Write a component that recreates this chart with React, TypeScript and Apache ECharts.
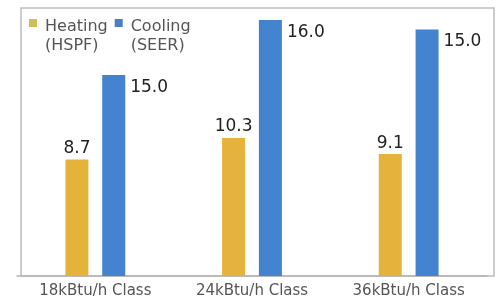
import { useEffect, useRef } from "react";
import * as echarts from "echarts";

const categories = ["18kBtu/h Class", "24kBtu/h Class", "36kBtu/h Class"];
const seriesNames = ["Heating\n(HSPF)", "Cooling\n(SEER)"];
const heating = [8.7, 10.3, 9.1];
const cooling = [15.0, 19.1, 18.4];
const heatingLabels = ["8.7", "10.3", "9.1"];
const coolingLabels = ["15.0", "16.0", "15.0"];

const legendIcon = "path://M0,3L8,3L8,11L0,11Z M0,0L0.01,0L0.01,0.01Z M0,38L0.01,38L0.01,37.99Z";

export default function App() {
  const ref = useRef<HTMLDivElement>(null);
  useEffect(() => {
    if (!ref.current) return;
    const chart = echarts.init(ref.current, null, { renderer: "svg" });
    chart.setOption({
      animation: false,
      textStyle: { fontFamily: "DejaVu Sans" },
      graphic: [
        {
          type: "rect",
          silent: true,
          z: -1,
          shape: { x: 21, y: 8, width: 473, height: 268 },
          style: { fill: "none", stroke: "#bdbdbd", lineWidth: 1.5 },
        },
      ],
      legend: {
        left: 29,
        top: 16,
        padding: 0,
        itemWidth: 8,
        itemHeight: 38,
        itemGap: 7,
        icon: legendIcon,
        data: [
          { name: seriesNames[0], itemStyle: { color: "#cdbf5a" } },
          { name: seriesNames[1], itemStyle: { color: "#4a7fc4" } },
        ],
        textStyle: {
          fontFamily: "DejaVu Sans",
          fontSize: 16,
          lineHeight: 19,
          color: "#555",
          padding: [0, 0, 0, 3],
        },
      },
      grid: { left: 17, right: 9, top: 8, bottom: 29 },
      xAxis: {
        type: "category",
        data: categories,
        axisLine: { lineStyle: { color: "#b5b5b5", width: 1.5 } },
        axisTick: { show: false },
        axisLabel: {
          color: "#555",
          fontSize: 15,
          margin: 6,
          interval: 0,
          fontFamily: "DejaVu Sans",
        },
      },
      yAxis: { type: "value", min: 0, max: 20, show: false },
      series: [
        {
          name: seriesNames[0],
          type: "bar",
          data: heating,
          barWidth: 23,
          barGap: "60%",
          itemStyle: { color: "#e5b23c" },
          label: {
            show: true,
            position: "top",
            distance: 4,
            color: "#222",
            fontSize: 17,
            fontFamily: "DejaVu Sans",
            formatter: (p: any) => heatingLabels[p.dataIndex],
          },
        },
        {
          name: seriesNames[1],
          type: "bar",
          data: cooling,
          barWidth: 23,
          barGap: "60%",
          itemStyle: { color: "#4383cf" },
          label: {
            show: true,
            position: ["100%", 0],
            align: "left",
            verticalAlign: "top",
            offset: [5, 2],
            color: "#222",
            fontSize: 17,
            fontFamily: "DejaVu Sans",
            formatter: (p: any) => coolingLabels[p.dataIndex],
          },
        },
      ],
    });
    return () => chart.dispose();
  }, []);
  return (
    <div
      ref={ref}
      style={{ position: "fixed", left: 0, top: 0, width: 496, height: 305 }}
    />
  );
}
